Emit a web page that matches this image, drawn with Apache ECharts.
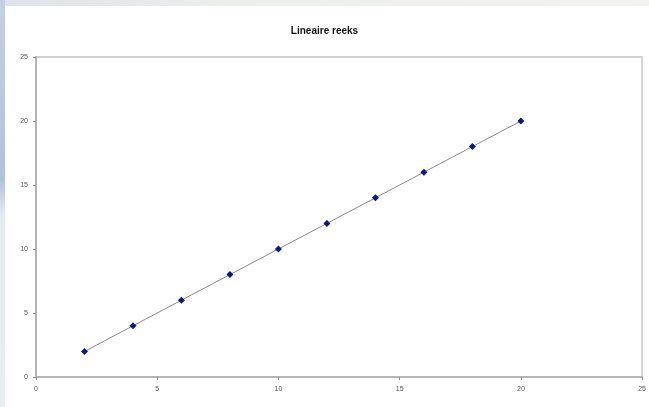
<!DOCTYPE html>
<html>
<head>
<meta charset="utf-8">
<script src="https://cdn.jsdelivr.net/npm/echarts@6/dist/echarts.min.js"></script>
<style>
  html, body { margin: 0; padding: 0; width: 649px; height: 407px; overflow: hidden; background: #eceeec; }
  #edge { position: absolute; left: 0; top: 0; width: 5px; height: 407px;
          background: linear-gradient(to bottom, #c4d0e2 0px, #b2c2da 180px, #e4ecee 215px, #e8eeee 407px); }
  #topband { position: absolute; left: 0; top: 0; width: 649px; height: 6px;
          background: linear-gradient(to right, #dde3ea, #eef0ec 40%, #f2f2ee); }
  #panel { position: absolute; left: 5px; top: 6px; width: 644px; height: 401px; background: #ffffff; }
  #chart { position: absolute; left: 0; top: 0; width: 649px; height: 407px; }
</style>
</head>
<body>
<div id="topband"></div>
<div id="edge"></div>
<div id="panel"></div>
<div id="chart"></div>
<script>
// Series: a straight line through evenly spaced points
const chartTitle = 'Lineaire reeks';
const xValues = [2, 4, 6, 8, 10, 12, 14, 16, 18, 20];
const yValues = [2, 4, 6, 8, 10, 12, 14, 16, 18, 20];
const axisMin = 0;
const axisMax = 25;
const axisStep = 5;

const points = xValues.map((x, i) => [x, yValues[i]]);

const chart = echarts.init(document.getElementById('chart'), null, { renderer: 'canvas' });

const labelStyle = { color: '#555', fontSize: 7, fontFamily: 'Liberation Sans, Arial, sans-serif' };

chart.setOption({
  backgroundColor: 'transparent',
  animation: false,
  title: {
    text: chartTitle,
    left: 'center',
    top: 21,
    textStyle: { fontSize: 10, fontWeight: 'bold', color: '#111', fontFamily: 'Liberation Sans, Arial, sans-serif' }
  },
  grid: {
    left: 36, right: 6, top: 57, bottom: 30,
    show: true,
    borderColor: '#d2d2d2',
    borderWidth: 2,
    backgroundColor: 'transparent'
  },
  xAxis: {
    type: 'value',
    min: axisMin, max: axisMax, interval: axisStep,
    axisLine: { show: true, lineStyle: { color: '#b4b4b4', width: 2 } },
    axisTick: { show: true, length: 3, lineStyle: { color: '#909090' } },
    splitLine: { show: false },
    axisLabel: Object.assign({ margin: 9 }, labelStyle)
  },
  yAxis: {
    type: 'value',
    min: axisMin, max: axisMax, interval: axisStep,
    axisLine: { show: true, lineStyle: { color: '#b4b4b4', width: 2 } },
    axisTick: { show: true, length: 3, lineStyle: { color: '#909090' } },
    splitLine: { show: false },
    axisLabel: Object.assign({ margin: 8 }, labelStyle)
  },
  series: [{
    type: 'line',
    data: points,
    symbol: 'diamond',
    symbolSize: 7,
    itemStyle: { color: '#0a1a80' },
    lineStyle: { color: '#8a8a8a', width: 1 }
  }]
});
</script>
</body>
</html>
